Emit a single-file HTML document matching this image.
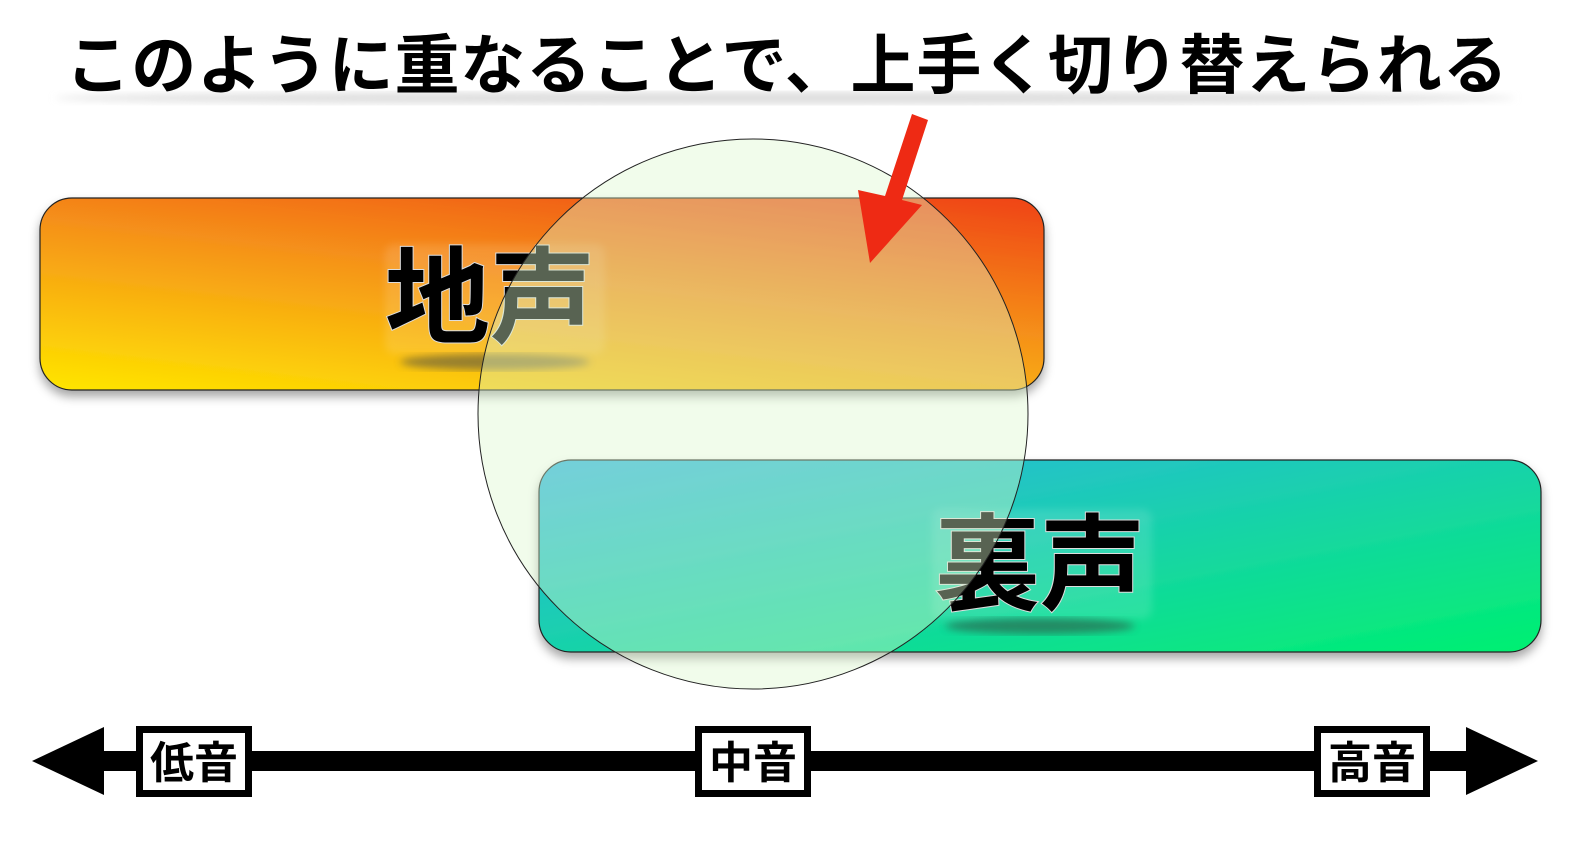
<!DOCTYPE html>
<html><head><meta charset="utf-8"><style>
body{margin:0;background:#fff;}
svg{display:block;}
text{font-family:"Liberation Sans","Noto Sans CJK JP",sans-serif;font-weight:bold;}
</style></head><body>
<svg width="1570" height="850" xmlns="http://www.w3.org/2000/svg">
<defs>
<linearGradient id="g1" x1="0" y1="1" x2="0.8" y2="-0.3">
<stop offset="0" stop-color="#ffe600"/><stop offset="0.5" stop-color="#f5901a"/><stop offset="1" stop-color="#ee3010"/>
</linearGradient>
<linearGradient id="g2" x1="0" y1="0" x2="1" y2="1">
<stop offset="0" stop-color="#30b4e4"/><stop offset="1" stop-color="#00f070"/>
</linearGradient>
<filter id="sh" x="-5%" y="-10%" width="110%" height="130%"><feDropShadow dx="0" dy="6" stdDeviation="5" flood-color="#000" flood-opacity="0.35"/></filter>
<filter id="bl"><feGaussianBlur stdDeviation="4"/></filter>
</defs>
<ellipse cx="785" cy="98" rx="730" ry="6" fill="#ddd" filter="url(#bl)"/>
<text x="787" y="88" font-size="65" letter-spacing="0.8" text-anchor="middle" fill="#000">このように重なることで、上手く切り替えられる</text>
<rect x="40" y="198" width="1004" height="192" rx="32" fill="url(#g1)" stroke="#222" stroke-width="1.2" filter="url(#sh)"/>
<rect x="539" y="460" width="1002" height="192" rx="32" fill="url(#g2)" stroke="#222" stroke-width="1.2" filter="url(#sh)"/>
<rect x="385" y="244" width="220" height="110" rx="10" fill="#fff" opacity="0.12" filter="url(#bl)"/>
<rect x="932" y="509" width="220" height="110" rx="10" fill="#fff" opacity="0.12" filter="url(#bl)"/>
<ellipse cx="495" cy="362" rx="95" ry="8" fill="#554" opacity="0.6" filter="url(#bl)"/>
<ellipse cx="1040" cy="626" rx="95" ry="8" fill="#354" opacity="0.6" filter="url(#bl)"/>
<text x="490" y="335" font-size="105" text-anchor="middle" fill="#000" stroke="#ddd" stroke-width="2" paint-order="stroke">地声</text>
<text x="1040" y="602" font-size="105" text-anchor="middle" fill="#000" stroke="#ddd" stroke-width="2" paint-order="stroke">裏声</text>
<circle cx="753" cy="414" r="275" fill="#dcf8cc" fill-opacity="0.4" stroke="#222" stroke-width="1"/>
<polygon points="912,114 928,120 902,200 922,205 870,263 858,190 885,196" fill="#ee2a14"/>
<rect x="100" y="751" width="1370" height="20" fill="#000"/>
<polygon points="32,761 104,727 104,795" fill="#000"/>
<polygon points="1538,761 1466,727 1466,795" fill="#000"/>
<g fill="#fff" stroke="#000" stroke-width="7">
<rect x="139.5" y="729.5" width="109" height="64"/>
<rect x="698.5" y="729.5" width="109" height="64"/>
<rect x="1317.5" y="729.5" width="109" height="64"/>
</g>
<g font-size="44" text-anchor="middle" fill="#000">
<text x="194" y="778">低音</text>
<text x="753" y="778">中音</text>
<text x="1372" y="778">高音</text>
</g>
</svg>
</body></html>
